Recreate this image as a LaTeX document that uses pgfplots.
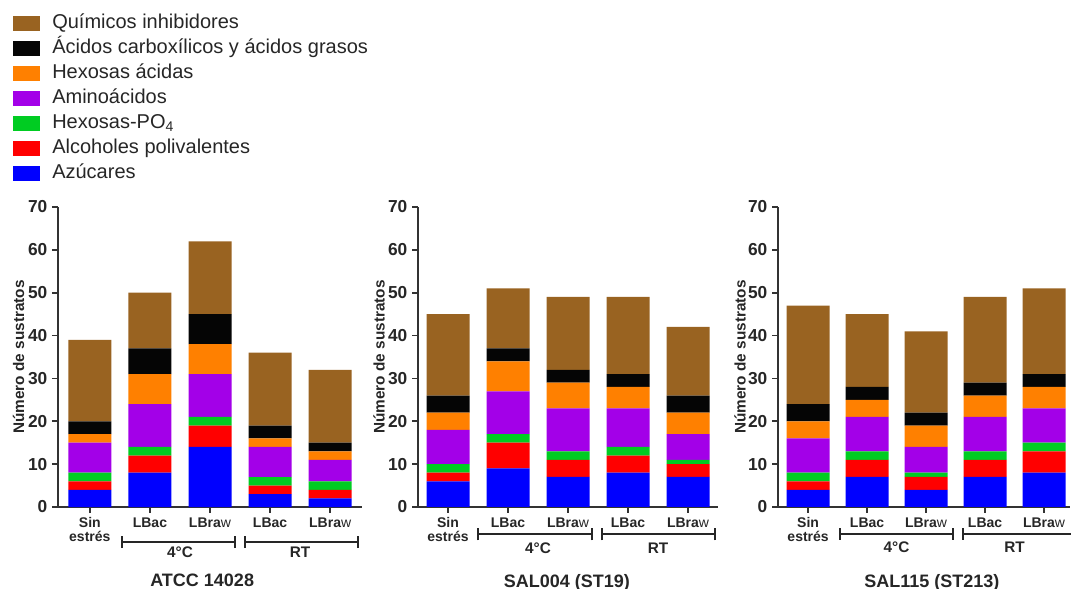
\documentclass[border=0pt]{standalone}
\usepackage{pgfplots}
\pgfplotsset{compat=1.18}
\usepackage{pgfplotstable}
\usepackage{fontspec}
\setmainfont{Liberation Sans}
\definecolor{cqui}{HTML}{996321}
\definecolor{ccar}{HTML}{050505}
\definecolor{chac}{HTML}{FF8000}
\definecolor{cami}{HTML}{A300E8}
\definecolor{chpo}{HTML}{00CC22}
\definecolor{calc}{HTML}{FF0000}
\definecolor{cazu}{HTML}{0000FF}

% ATCC 14028
\pgfplotstableread{
x azu alc hpo ami hac car qui
0 4  2 2 7  2 3 19
1 8  4 2 10 7 6 13
2 14 5 2 10 7 7 17
3 3  2 2 7  2 3 17
4 2  2 2 5  2 2 17
}\tA
% SAL004 (ST19)
\pgfplotstableread{
x azu alc hpo ami hac car qui
0 6 2 2 8  4 4 19
1 9 6 2 10 7 3 14
2 7 4 2 10 6 3 17
3 8 4 2 9  5 3 18
4 7 3 1 6  5 4 16
}\tB
% SAL115 (ST213)
\pgfplotstableread{
x azu alc hpo ami hac car qui
0 4 2 2 8 4 4 23
1 7 4 2 8 4 3 17
2 4 3 1 6 5 3 19
3 7 4 2 8 5 3 20
4 8 5 2 8 5 3 20
}\tC

\pgfplotsset{
 lb/.style={fill=#1, draw=none,
   legend image code/.code={\fill[#1] (0pt,-5.6pt) rectangle (20.25pt,5.6pt);}},
 panel/.style={
  ybar stacked, bar width=32.25pt,
  scale only axis, height=225pt,
  ymin=0, ymax=70, ytick={0,10,...,70},
  xtick={0,1,2,3,4},
  xticklabels={{Sin\\estrés},LBac,{LBra{\mdseries w}},LBac,{LBra{\mdseries w}}},
  xticklabel style={align=center, font=\fontsize{10.5}{10.5}\selectfont\bfseries, text=black!85},
  yticklabel style={font=\fontsize{13}{14}\selectfont\bfseries, text=black!85},
  /pgf/number format/assume math mode=true,
  axis x line*=bottom, axis y line*=left,
  axis line style={line width=1.4pt, black!80},
  tick style={line width=1.2pt, black!80},
  tick align=outside, major tick length=4.5pt,
  ylabel={Número de sustratos},
  ylabel style={font=\fontsize{11.5}{12}\selectfont\bfseries, at={(axis description cs:-0.13,0.5)}, anchor=center, text=black!85},
  clip=false, enlarge x limits=false,
 }
}
\newcommand{\brk}[3]{%
  \draw[line width=1.5pt, black!85] (axis cs:#1,#3) -- (axis cs:#2,#3);
  \draw[line width=1.5pt, black!85] ([yshift=-4.5pt]axis cs:#1,#3) -- ([yshift=4.5pt]axis cs:#1,#3);
  \draw[line width=1.5pt, black!85] ([yshift=-4.5pt]axis cs:#2,#3) -- ([yshift=4.5pt]axis cs:#2,#3);
}

\begin{document}
\begin{tikzpicture}
\path[use as bounding box] (0,0) rectangle (803.25pt,441.75pt);

\begin{axis}[panel, at={(43.5pt,61.5pt)}, anchor=south west,
  width=228pt, xmin=-0.53, xmax=4.53,
  legend style={at={(-0.148,1.653)}, anchor=north west, draw=none, fill=none,
    inner sep=0pt, row sep=0pt, column sep=9pt,
    font=\fontsize{15}{16}\selectfont, text=black!85,
    nodes={inner xsep=0pt, inner ysep=2pt, text height=11pt, text depth=3.75pt}},
  legend cell align=left, reverse legend]
\addplot[lb=cazu] table[x=x,y=azu]{\tA};
\addplot[lb=calc] table[x=x,y=alc]{\tA};
\addplot[lb=chpo] table[x=x,y=hpo]{\tA};
\addplot[lb=cami] table[x=x,y=ami]{\tA};
\addplot[lb=chac] table[x=x,y=hac]{\tA};
\addplot[lb=ccar] table[x=x,y=car]{\tA};
\addplot[lb=cqui] table[x=x,y=qui]{\tA};
\legend{Azúcares, Alcoholes polivalentes, Hexosas-PO\textsubscript{4}, Aminoácidos, Hexosas ácidas, Ácidos carboxílicos y ácidos grasos, Químicos inhibidores}
\brk{0.53}{2.42}{-8.2}
\brk{2.58}{4.47}{-8.2}
\node[font=\fontsize{11.5}{12}\selectfont\bfseries, text=black!85] at (axis cs:1.5,-10.6) {4°C};
\node[font=\fontsize{11.5}{12}\selectfont\bfseries, text=black!85] at (axis cs:3.5,-10.6) {RT};
\node[font=\fontsize{13.5}{14}\selectfont\bfseries, text=black!85] at (axis cs:1.87,-17) {ATCC 14028};
\end{axis}

\begin{axis}[panel, at={(313.5pt,61.5pt)}, anchor=south west,
  width=225pt, xmin=-0.5, xmax=4.5]
\addplot[lb=cazu] table[x=x,y=azu]{\tB};
\addplot[lb=calc] table[x=x,y=alc]{\tB};
\addplot[lb=chpo] table[x=x,y=hpo]{\tB};
\addplot[lb=cami] table[x=x,y=ami]{\tB};
\addplot[lb=chac] table[x=x,y=hac]{\tB};
\addplot[lb=ccar] table[x=x,y=car]{\tB};
\addplot[lb=cqui] table[x=x,y=qui]{\tB};
\brk{0.5}{2.4}{-6.4}
\brk{2.57}{4.45}{-6.4}
\node[font=\fontsize{11.5}{12}\selectfont\bfseries, text=black!85] at (axis cs:1.5,-9.6) {4°C};
\node[font=\fontsize{11.5}{12}\selectfont\bfseries, text=black!85] at (axis cs:3.5,-9.6) {RT};
\node[font=\fontsize{13.5}{14}\selectfont\bfseries, text=black!85] at (axis cs:1.98,-17.6) {SAL004 (ST19)};
\end{axis}

\begin{axis}[panel, at={(583.5pt,61.5pt)}, anchor=south west,
  width=219pt, xmin=-0.51, xmax=4.44]
\addplot[lb=cazu] table[x=x,y=azu]{\tC};
\addplot[lb=calc] table[x=x,y=alc]{\tC};
\addplot[lb=chpo] table[x=x,y=hpo]{\tC};
\addplot[lb=cami] table[x=x,y=ami]{\tC};
\addplot[lb=chac] table[x=x,y=hac]{\tC};
\addplot[lb=ccar] table[x=x,y=car]{\tC};
\addplot[lb=cqui] table[x=x,y=qui]{\tC};
\brk{0.54}{2.46}{-6.2}
\brk{2.63}{4.6}{-6.2}
\node[font=\fontsize{11.5}{12}\selectfont\bfseries, text=black!85] at (axis cs:1.5,-9.3) {4°C};
\node[font=\fontsize{11.5}{12}\selectfont\bfseries, text=black!85] at (axis cs:3.5,-9.3) {RT};
\node[font=\fontsize{13.5}{14}\selectfont\bfseries, text=black!85] at (axis cs:2.1,-17.6) {SAL115 (ST213)};
\end{axis}
\end{tikzpicture}
\end{document}
